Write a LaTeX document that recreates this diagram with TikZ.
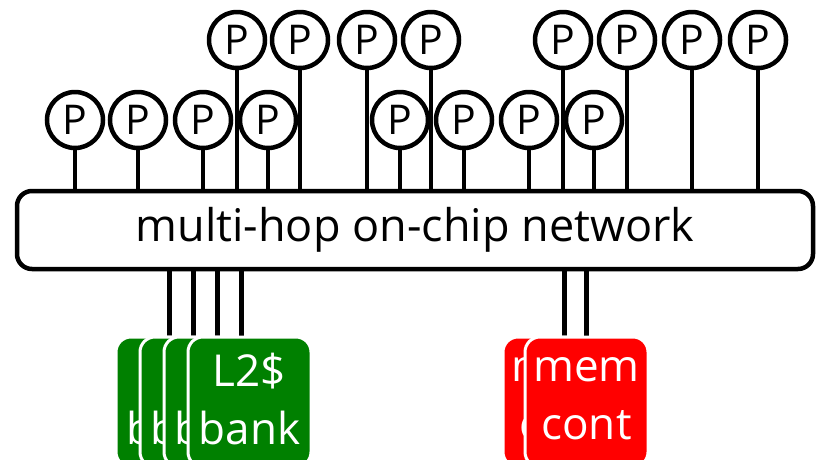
\documentclass[tikz,border=0pt]{standalone}
\usepackage{fontspec}
\setmainfont{Open Sans}
\definecolor{l2green}{RGB}{0,128,0}
\definecolor{mcred}{RGB}{255,0,0}
\begin{document}
\begin{tikzpicture}[x=1pt,y=-1pt,
  proc/.style={circle, draw=black, fill=white, line width=4.5pt,
    minimum size=56pt, inner sep=0pt, font=\fontsize{41}{41}\selectfont},
  wire/.style={line width=4.5pt},
  netbox/.style={rectangle, rounded corners=15pt, draw=black, line width=4.5pt,
    minimum width=796pt, minimum height=78pt, inner sep=0pt,
    font=\fontsize{45}{54}\selectfont},
  unit/.style={rectangle, rounded corners=15pt, draw=white, line width=3pt,
    minimum width=123pt, minimum height=130pt, inner sep=0pt,
    text=white, align=center, font=\fontsize{44}{58}\selectfont, text depth=7pt},
  bank/.style={unit, fill=l2green},
  memc/.style={unit, fill=mcred}]
  \useasboundingbox (0,0) rectangle (816,459);
  \clip (0,0) rectangle (816,459);

  % on-chip network
  \node[netbox] (net) at (415,230) {multi-hop on-chip network};

  % processors, lower row
  \foreach \n/\x in {1/75,2/138,3/203,4/268,5/400,6/464,7/529,8/594} {
    \node[proc] (pl\n) at (\x,120) {P};
    \draw[wire] (pl\n.south) -- (pl\n.south |- net.north);
  }
  % processors, upper row
  \foreach \n/\x in {1/237,2/300,3/367,4/431,5/563,6/627,7/692,8/758} {
    \node[proc] (pu\n) at (\x,40) {P};
    \draw[wire] (pu\n.south) -- (pu\n.south |- net.north);
  }

  % L2 cache banks, stacked; each link drawn before its bank
  \foreach \n/\x in {1/177.5,2/201.5,3/225.5,4/249.5} {
    \coordinate (gt\n) at ([xshift=-8pt]\x,337);
    \draw[wire] (gt\n |- net.south) -- (gt\n);
    \node[bank] (bank\n) at (\x,402) {L2\$\\bank};
  }

  % memory controllers, stacked
  \foreach \n/\x in {1/564.5,2/586.5} {
    \coordinate (mt\n) at (\x,337);
    \draw[wire] (mt\n |- net.south) -- (mt\n);
    \node[memc] (mc\n) at (\x,402) {mem\\cont};
  }
\end{tikzpicture}
\end{document}
